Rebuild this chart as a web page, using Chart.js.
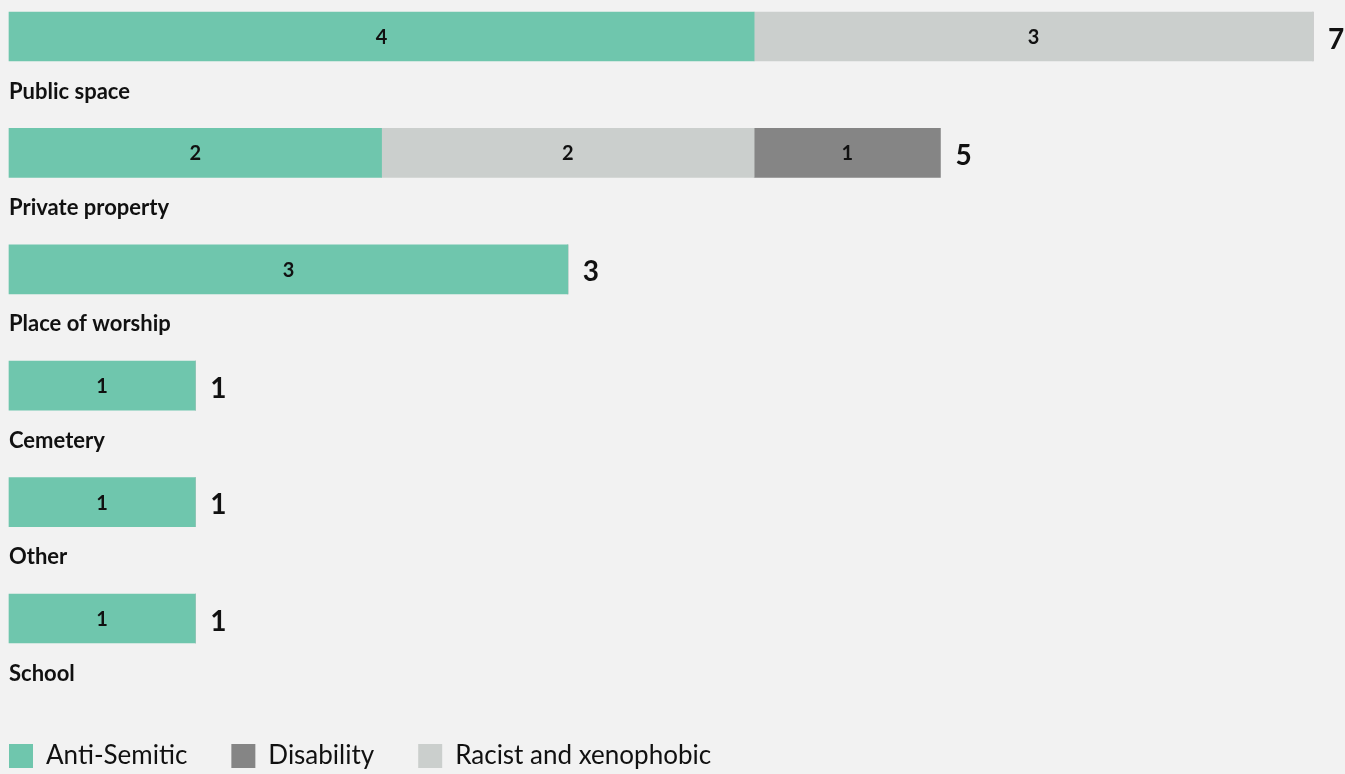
<!DOCTYPE html>
<html>
<head>
<meta charset="utf-8">
<script src="https://cdn.jsdelivr.net/npm/chart.js@4/dist/chart.umd.min.js"></script>
<style>
  html, body { margin: 0; padding: 0; background: #f2f2f2; }
  #wrap { width: 1345px; height: 774px; position: relative; }
</style>
</head>
<body>
<div id="wrap"><canvas id="chart"></canvas></div>
<script>
// categories, top to bottom
categories = ['Public space', 'Private property', 'Place of worship', 'Cemetery', 'Other', 'School'];

// incidents per type
antiSemitic = [4, 2, 3, 1, 1, 1];
racist = [3, 2, 0, 0, 0, 0];
disability = [0, 1, 0, 0, 0, 0];

const FONT = 'Lato, "Noto Sans", sans-serif';
const LEGEND_GAP = 44;

// in-bar values, totals to the right and the category names under each bar
const barLabels = {
  id: 'barLabels',
  afterDatasetsDraw(chart) {
    const ctx = chart.ctx;
    const xs = chart.scales.x;
    const ys = chart.scales.y;
    ctx.save();
    ctx.fillStyle = '#111';
    ctx.textBaseline = 'middle';

    ctx.font = 'bold 20px ' + FONT;
    ctx.textAlign = 'center';
    chart.data.datasets.forEach((ds, di) => {
      const meta = chart.getDatasetMeta(di);
      meta.data.forEach((bar, i) => {
        if (!ds.data[i]) return;
        ctx.fillText(ds.data[i], (bar.x + bar.base) / 2, bar.y + 1);
      });
    });

    for (let i = 0; i < categories.length; i++) {
      let total = 0;
      chart.data.datasets.forEach(ds => { total += ds.data[i]; });
      const y = ys.getPixelForValue(i);
      ctx.font = 'bold 28px ' + FONT;
      ctx.textAlign = 'left';
      ctx.fillText(total, xs.getPixelForValue(total) + 15, y + 3);
      ctx.font = 'bold 22px ' + FONT;
      ctx.fillText(categories[i], 9, y + 55);
    }
    ctx.restore();
  }
};

// legend sits flush left at the bottom, items spaced apart
const legendPlace = {
  id: 'legendPlace',
  afterUpdate(chart) {
    const lg = chart.legend;
    const h = lg.bottom - lg.top;
    lg.left = 9 - LEGEND_GAP;
    lg.top = 743 - LEGEND_GAP;
    lg.bottom = lg.top + h;
  }
};

const data = {
  labels: categories,
  datasets: [{
    label: 'Anti-Semitic',
    data: antiSemitic,
    backgroundColor: '#6fc6ad',
  }, {
    label: 'Racist and xenophobic',
    data: racist,
    backgroundColor: '#cbcfcd',
  }, {
    label: 'Disability',
    data: disability,
    backgroundColor: '#858585',
  }]
};

const options = {
  indexAxis: 'y',
  responsive: true,
  maintainAspectRatio: false,
  animation: false,
  layout: {
    padding: { left: 9, right: 32, top: 36.5, bottom: 75.5 }
  },
  datasets: {
    bar: { barThickness: 49, clip: false, borderWidth: 0 }
  },
  scales: {
    x: { stacked: true, display: false, min: 0, max: 7 },
    y: { stacked: true, display: false, offset: false }
  },
  plugins: {
    tooltip: { enabled: false },
    legend: {
      position: 'bottom',
      align: 'start',
      labels: {
        sort: (a, b) => a.text.localeCompare(b.text),
        boxWidth: 24,
        boxHeight: 24,
        padding: LEGEND_GAP,
        color: '#111',
        font: { family: FONT, size: 26 }
      }
    }
  }
};

const ctx = document.getElementById('chart').getContext('2d');
myChart = new Chart(ctx, {
  type: 'bar',
  data: data,
  options: options,
  plugins: [barLabels, legendPlace]
});
</script>
</body>
</html>
